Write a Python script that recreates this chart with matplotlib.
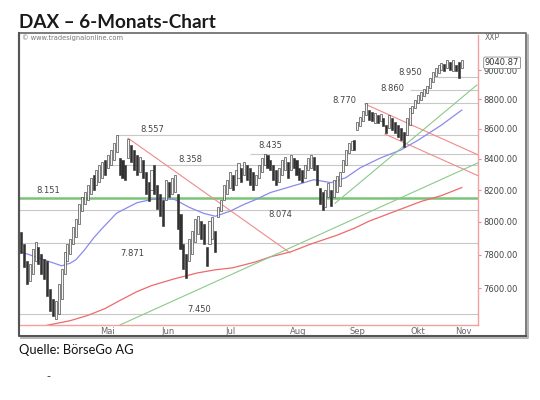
import matplotlib
matplotlib.use("Agg")
import matplotlib.pyplot as plt
import numpy as np
from matplotlib.lines import Line2D
from matplotlib.ticker import FixedLocator, FuncFormatter, NullLocator

# daily bars, trading-day index 0..152 (Apr - Nov 2013)
hi = [7935, 7864, 7762, 7744, 7834, 7876, 7846, 7804, 7774, 7762,
      7596, 7538, 7526, 7625, 7714, 7816, 7864, 7894, 7967, 8016,
      8110, 8153, 8190, 8235, 8279, 8298, 8330, 8362, 8381, 8394,
      8427, 8459, 8504, 8557, 8407, 8394, 8362, 8530, 8491, 8459,
      8427, 8414, 8394, 8317, 8254, 8330, 8362, 8235, 8172, 8140,
      8266, 8254, 8279, 8298, 8172, 8047, 7864, 7804, 7894, 7943,
      8016, 8035, 8004, 7986, 7846, 8004, 8028, 7943, 8091, 8140,
      8235, 8266, 8317, 8298, 8330, 8375, 8343, 8381, 8362, 8343,
      8317, 8298, 8362, 8407, 8435, 8427, 8394, 8362, 8330, 8343,
      8394, 8414, 8381, 8427, 8407, 8394, 8343, 8330, 8362, 8407,
      8427, 8414, 8362, 8216, 8190, 8203, 8247, 8203, 8266, 8292,
      8317, 8394, 8459, 8504, 8517, 8524, 8644, 8677, 8717, 8770,
      8725, 8710, 8705, 8692, 8700, 8670, 8624, 8692, 8670, 8644,
      8624, 8604, 8577, 8670, 8738, 8752, 8793, 8827, 8848, 8869,
      8889, 8944, 8986, 9014, 9035, 9049, 9042, 9070, 9056, 9070,
      9035, 9056, 9070]
lo = [7810, 7726, 7625, 7643, 7684, 7762, 7744, 7684, 7655, 7555,
      7468, 7434, 7422, 7451, 7538, 7684, 7762, 7804, 7864, 7906,
      7986, 8066, 8110, 8140, 8172, 8203, 8235, 8254, 8279, 8298,
      8343, 8362, 8394, 8446, 8298, 8279, 8266, 8407, 8381, 8330,
      8298, 8317, 8279, 8172, 8128, 8203, 8172, 8078, 8035, 7974,
      8140, 8153, 8172, 8190, 7955, 7834, 7714, 7660, 7762, 7804,
      7876, 7925, 7894, 7864, 7732, 7864, 7894, 7816, 8028, 8066,
      8140, 8172, 8216, 8203, 8235, 8279, 8254, 8298, 8266, 8235,
      8203, 8235, 8279, 8317, 8362, 8343, 8330, 8266, 8235, 8254,
      8298, 8330, 8279, 8330, 8343, 8298, 8266, 8254, 8279, 8330,
      8343, 8330, 8235, 8110, 8074, 8091, 8153, 8097, 8159, 8190,
      8228, 8317, 8362, 8440, 8459, 8459, 8591, 8617, 8650, 8692,
      8657, 8650, 8640, 8640, 8650, 8617, 8570, 8604, 8591, 8570,
      8543, 8524, 8480, 8557, 8624, 8705, 8738, 8772, 8793, 8820,
      8841, 8875, 8917, 8958, 8979, 9000, 8993, 9014, 9000, 8993,
      8993, 8944, 9014]
up = [0, 0, 0, 1, 1, 1, 0, 0, 0, 0, 0, 0, 1, 1, 1, 1, 1, 1, 1, 1,
      1, 1, 1, 1, 1, 0, 1, 1, 1, 0, 1, 1, 1, 1, 0, 0, 0, 1, 0, 0,
      0, 1, 0, 0, 0, 1, 0, 0, 0, 0, 1, 0, 1, 1, 0, 0, 0, 0, 1, 1,
      1, 1, 0, 0, 0, 1, 1, 0, 1, 1, 1, 1, 1, 0, 1, 1, 0, 1, 0, 0,
      0, 1, 1, 1, 1, 0, 0, 0, 0, 1, 1, 1, 0, 1, 0, 0, 0, 0, 1, 1,
      1, 0, 0, 0, 0, 1, 1, 0, 1, 1, 1, 1, 1, 1, 1, 0, 1, 1, 1, 1,
      0, 0, 1, 0, 1, 0, 0, 1, 0, 0, 0, 0, 0, 1, 1, 1, 1, 1, 1, 1,
      1, 1, 1, 1, 1, 1, 0, 1, 0, 1, 0, 0, 1]

# moving averages (at selected bars)
blue_idx = [0, 5, 12, 14, 17, 19, 22, 25, 28, 33, 40, 45, 50, 53, 58, 63,
            67, 72, 77, 81, 86, 93, 101, 107, 112, 117, 124, 131, 137, 145, 152]
blue_ma = [7816, 7786, 7744, 7732, 7748, 7770, 7830, 7900, 7960, 8055, 8120,
           8140, 8146, 8140, 8091, 8053, 8035, 8066, 8110, 8140, 8184, 8222,
           8266, 8247, 8279, 8343, 8407, 8459, 8524, 8624, 8725]
red_idx = [8, 17, 23, 29, 34, 40, 45, 53, 61, 67, 73, 81, 86, 93, 100, 109,
           115, 120, 129, 138, 145, 152]
red_ma = [7380, 7410, 7440, 7480, 7526, 7579, 7614, 7655, 7690, 7708, 7720,
          7756, 7786, 7816, 7864, 7918, 7961, 8004, 8066, 8128, 8165, 8216]

# trend lines: (start idx, start value, end idx, end value)
red_trends = [(36.9, 8537, 92.8, 7810), (118.6, 8766, 157.6, 8427),
              (125.5, 8564, 157.6, 8292)]
green_trends = [(34.1, 7385, 157.6, 8375), (108.3, 8116, 157.2, 8896)]

# horizontal levels
support = 8151
level_vals = [8557, 8358, 8435, 8074, 7871, 7450, 8770, 8860, 8950]
level_from = [33, 29, 79, None, None, None, 119, 134, 142]
label_text = ["8.557", "8.358", "8.151", "8.435", "8.074", "7.871", "7.450",
              "8.770", "8.860", "8.950"]
label_val = [8557, 8358, 8151, 8435, 8074, 7871, 7450, 8770, 8860, 8950]
label_idx = [45.2, 58.3, 9.3, 85.9, 89.3, 38.3, 61.4, 111.4, 127.9, 134.1]
label_dy = [-6, -6, -7, -8, 4, 11, -4, -3, -2, -5]   # pixels, minus = above

month_pos = [29.7, 50.7, 72.1, 95.5, 115.9, 136.9, 152.4]
month_lbl = ["Mai", "Jun", "Jul", "Aug", "Sep", "Okt", "Nov"]
price_ticks = [7600, 7800, 8000, 8200, 8400, 8600, 8800, 9000]
last_price = 9040.87

W, H = 540, 400


def fx(px):
    return px / W


def fy(py):
    return 1 - py / H


fig = plt.figure(figsize=(W / 100, H / 100), dpi=100)
fig.patch.set_facecolor("white")
ax = fig.add_axes([fx(19), fy(325), fx(478) - fx(19), fy(35) - fy(325)])
ax.set_yscale("log")
ax.set_xlim(-0.7, 157.6)
ax.set_ylim(7385, 9248)
x_left, x_right = ax.get_xlim()

# levels
for v, s in zip(level_vals, level_from):
    ax.hlines(v, x_left if s is None else s, x_right, color="#c8c8c8",
              lw=0.8, zorder=1)
ax.axhline(support, color="#7cc37a", lw=1.8, zorder=2)
for t, i, v, dy in zip(label_text, label_idx, label_val, label_dy):
    ax.annotate(t, (i, v), xytext=(0, -dy * 0.72), textcoords="offset points",
                ha="center", va="center", fontsize=6, color="#444444",
                zorder=6)

# indicators + trendlines
ax.plot(blue_idx, blue_ma, color="#8a8aee", lw=0.9, zorder=3)
ax.plot(red_idx, red_ma, color="#ee6a6a", lw=0.9, zorder=3)
for x0, v0, x1, v1 in red_trends:
    ax.plot([x0, x1], [v0, v1], color="#f08a8a", lw=0.8, zorder=3)
for x0, v0, x1, v1 in green_trends:
    ax.plot([x0, x1], [v0, v1], color="#8cc88c", lw=0.8, zorder=3)

# price bars
idx = np.arange(len(hi))
hi_a, lo_a = np.array(hi, float), np.array(lo, float)
face = ["#f4f4f4" if u else "#303030" for u in up]
ax.bar(idx, hi_a - lo_a, bottom=lo_a, width=0.7, color=face,
       edgecolor="#3a3a3a", linewidth=0.45, zorder=4)

# axes styling
ax.yaxis.tick_right()
ax.yaxis.set_major_locator(FixedLocator(price_ticks))
ax.yaxis.set_minor_locator(NullLocator())
ax.yaxis.set_major_formatter(FuncFormatter(lambda v, _: f"{v:.2f}"))
ax.tick_params(axis="y", length=2, color="#f08a8a", labelsize=6,
               labelcolor="#444444", pad=2)
ax.set_xticks(month_pos)
ax.set_xticklabels(month_lbl)
ax.tick_params(axis="x", length=0, labelsize=6, labelcolor="#666666", pad=1.5)
for side, sp in ax.spines.items():
    if side in ("right", "bottom"):
        sp.set_color("#f4a0a0")
        sp.set_linewidth(1.0)
    elif side == "left":
        sp.set_color("#555555")
        sp.set_linewidth(1.5)
    else:
        sp.set_visible(False)

ax.annotate(f"{last_price:.2f}", (1.0, last_price),
            xycoords=("axes fraction", "data"), xytext=(5, 1),
            textcoords="offset points", ha="left", va="center", fontsize=6,
            color="#333333", zorder=7, annotation_clip=False,
            bbox=dict(boxstyle="round,pad=0.15", fc="white", ec="#888888",
                      lw=0.6))

# outer frame with shadow
fig.add_artist(Line2D([fx(19), fx(526), fx(526)], [fy(33), fy(33), fy(336)],
                      transform=fig.transFigure, color="#666666", lw=1.2))
fig.add_artist(Line2D([fx(19), fx(19), fx(526)], [fy(33), fy(336), fy(336)],
                      transform=fig.transFigure, color="#555555", lw=1.5))
fig.add_artist(Line2D([fx(528), fx(528), fx(21)], [fy(35), fy(338), fy(338)],
                      transform=fig.transFigure, color="#aaaaaa", lw=1.2))

fig.text(fx(22), fy(38), "\u00a9 www.tradesignalonline.com", fontsize=4.8,
         color="#777777", va="center", ha="left")
fig.text(fx(485), fy(37), "XXP", fontsize=5.5, color="#666666", va="center",
         ha="left")
fig.text(fx(19), fy(28.5), "DAX \u2013 6-Monats-Chart", fontsize=13.6,
         fontweight="bold", family="Lato", color="#1a1a1a", va="baseline")
fig.text(fx(19), fy(353.5), "Quelle: B\u00f6rseGo AG", fontsize=9.3,
         family="Lato", color="#111111", va="baseline")
fig.text(fx(46), fy(376), "-", fontsize=8, color="#333333", va="center")

fig.savefig("out.png", dpi=100, facecolor="white")
